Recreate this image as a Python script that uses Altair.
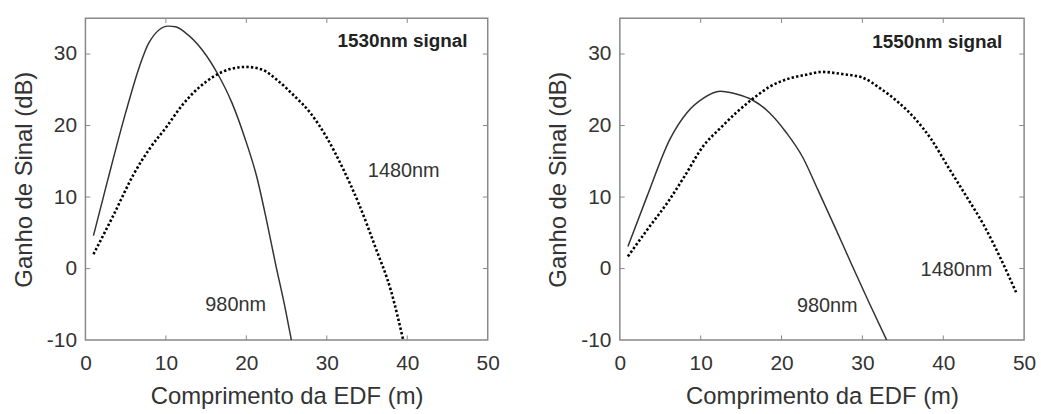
import altair as alt
import pandas as pd

x_ticks = [0, 10, 20, 30, 40, 50]
y_ticks = [-10, 0, 10, 20, 30]

# Left panel (1530nm signal)
l980_x = [1, 2.8, 5, 6.7, 7.9, 10.3, 11.2, 12.4, 14.5, 16.5, 18.2, 19.8, 21.3, 22.5, 23.6, 24.8, 25.6]
l980_y = [4.6, 12.5, 21.8, 28.2, 31.6, 33.9, 33.8, 33.0, 30.6, 27.1, 23.2, 18.3, 12.8, 6.8, 0.8, -5.4, -10]
l1480_x = [1, 3.5, 6, 8, 10, 12, 14, 16, 18, 20, 22, 24, 26, 28, 30, 32, 34, 36, 38, 39.5]
l1480_y = [2, 7.5, 13.2, 16.8, 19.7, 22.8, 25.2, 26.9, 27.9, 28.2, 27.8, 26.2, 24.1, 21.7, 18.3, 14.0, 9.0, 3.1, -3.2, -10]

# Right panel (1550nm signal)
r980_x = [1, 3.4, 6.2, 8.3, 10.3, 12.4, 14.4, 16.5, 18.5, 20.6, 22.6, 24.5, 26.6, 28.7, 30.8, 33]
r980_y = [3.1, 10.2, 18.1, 21.8, 23.8, 24.8, 24.4, 23.5, 21.8, 19.0, 15.6, 11.0, 5.8, 0.5, -4.7, -10]
r1480_x = [1, 3.5, 6, 8, 10.3, 12.4, 14.4, 16.5, 18.5, 21, 23, 25, 27.5, 30, 32.2, 34.4, 36.4, 38.5, 40.5, 42.8, 45, 47.1, 49]
r1480_y = [1.7, 5.6, 9.4, 12.9, 17.1, 19.6, 21.8, 23.8, 25.4, 26.6, 27.1, 27.5, 27.2, 26.7, 25.2, 23.3, 21.1, 18.1, 14.4, 10.2, 6.1, 1.4, -3.3]

signals = ["1530nm signal", "1550nm signal"]
signal_pos = [(47.5, 31.8), (47.3, 31.7)]
lab1480_pos = [(35.1, 13.7), (37.2, -0.2)]
lab980_pos = [(14.9, -5.1), (21.9, -5.2)]

FONT = "Liberation Sans"
TXT = "#333333"

xscale = alt.Scale(domain=[0, 50], nice=False, zero=False)
yscale = alt.Scale(domain=[-10, 35], nice=False, zero=False)


def panel(x980, y980, x1480, y1480, sig, sigpos, p1480, p980, w):
    xa = alt.Axis(values=x_ticks, title="Comprimento da EDF (m)", grid=False, ticks=False,
                  domain=False, labelPadding=13, titlePadding=11, labelFlush=False,
                  labelExpr="'' + datum.value")
    ya = alt.Axis(values=y_ticks, title="Ganho de Sinal (dB)", grid=False, ticks=False,
                  domain=False, labelPadding=9, titlePadding=10, labelExpr="'' + datum.value")
    solid = alt.Chart(pd.DataFrame({"x": x980, "y": y980})).mark_line(
        color="#333333", strokeWidth=1.5, clip=True, interpolate="monotone"
    ).encode(x=alt.X("x:Q", scale=xscale, axis=xa), y=alt.Y("y:Q", scale=yscale, axis=ya))
    dotted = alt.Chart(pd.DataFrame({"x": x1480, "y": y1480})).mark_line(
        color="#000000", strokeWidth=2.6, strokeDash=[2.4, 2.2], clip=True, interpolate="monotone"
    ).encode(x=alt.X("x:Q", scale=xscale), y=alt.Y("y:Q", scale=yscale))

    # inward MATLAB-style ticks
    bx = [v for v in x_ticks[1:-1]]
    ticks_b = alt.Chart(pd.DataFrame({"x": bx, "y": [-10] * len(bx), "y2": [-9.35] * len(bx)})).mark_rule(
        color="#888888", strokeWidth=1).encode(x="x:Q", y="y:Q", y2="y2:Q")
    ticks_t = alt.Chart(pd.DataFrame({"x": bx, "y": [35] * len(bx), "y2": [34.35] * len(bx)})).mark_rule(
        color="#888888", strokeWidth=1).encode(x="x:Q", y="y:Q", y2="y2:Q")
    ly = [v for v in y_ticks[1:]]
    ticks_l = alt.Chart(pd.DataFrame({"y": ly, "x": [0] * len(ly), "x2": [0.6] * len(ly)})).mark_rule(
        color="#888888", strokeWidth=1).encode(x="x:Q", x2="x2:Q", y="y:Q")
    ticks_r = alt.Chart(pd.DataFrame({"y": ly, "x": [50] * len(ly), "x2": [49.4] * len(ly)})).mark_rule(
        color="#888888", strokeWidth=1).encode(x="x:Q", x2="x2:Q", y="y:Q")

    t_sig = alt.Chart(pd.DataFrame({"x": [sigpos[0]], "y": [sigpos[1]], "t": [sig]})).mark_text(
        align="right", baseline="middle", font=FONT, fontSize=19, fontWeight="bold", color="#222222"
    ).encode(x="x:Q", y="y:Q", text="t:N")
    t_lab = alt.Chart(pd.DataFrame({"x": [p1480[0], p980[0]], "y": [p1480[1], p980[1]],
                                    "t": ["1480nm", "980nm"]})).mark_text(
        align="left", baseline="middle", font=FONT, fontSize=20, color=TXT
    ).encode(x="x:Q", y="y:Q", text="t:N")

    return alt.layer(solid, dotted, ticks_b, ticks_t, ticks_l, ticks_r, t_sig, t_lab).properties(
        width=w, height=324)


left = panel(l980_x, l980_y, l1480_x, l1480_y, signals[0], signal_pos[0], lab1480_pos[0], lab980_pos[0], 405)
right = panel(r980_x, r980_y, r1480_x, r1480_y, signals[1], signal_pos[1], lab1480_pos[1], lab980_pos[1], 407)

chart = alt.hconcat(left, right, spacing=45).properties(
    padding={"left": 11, "top": 15, "right": 4, "bottom": 0},
    background="white",
).configure_view(
    stroke="#888888", strokeWidth=1.5
).configure_axis(
    labelFont=FONT, titleFont=FONT, labelFontSize=21, titleFontSize=24,
    labelColor=TXT, titleColor=TXT, titleFontWeight="normal"
)

chart.save("out.html", embed_options={"renderer": "svg", "actions": False})
